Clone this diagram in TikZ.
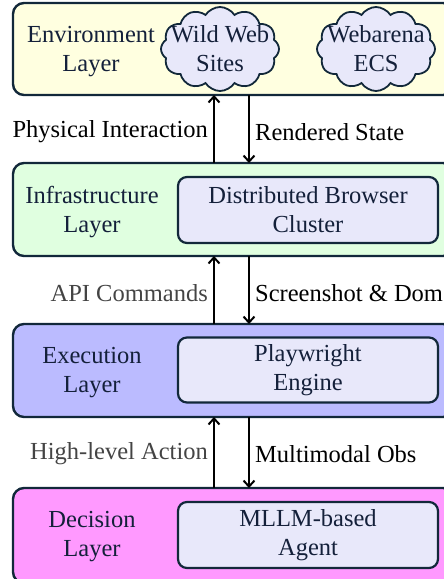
\documentclass[tikz,border=0pt]{standalone}
\usepackage{fontspec}
\setmainfont{Liberation Serif}
\usetikzlibrary{shapes.symbols,arrows.meta}
\definecolor{bordc}{HTML}{12283A}
\definecolor{txtc}{HTML}{14203A}
\definecolor{envc}{HTML}{FFFFE0}
\definecolor{infc}{HTML}{E0FFE0}
\definecolor{exec}{HTML}{BBBBFF}
\definecolor{decc}{HTML}{FF99FF}
\definecolor{innc}{HTML}{E8E8FA}
\definecolor{greyt}{HTML}{444444}
\tikzset{
  layerbox/.style={draw=bordc, line width=2.4pt, rounded corners=11pt},
  innerbox/.style={draw=bordc, line width=2.2pt, rounded corners=9pt, fill=innc},
  lbl/.style={text=txtc, align=center, font=\fontsize{24.5}{29}\selectfont},
  cloudbox/.style={cloud, cloud puffs=12, cloud puff arc=115, draw=bordc, line width=1.8pt, fill=innc,
     minimum width=118pt, minimum height=84pt, cloud ignores aspect, inner sep=0pt},
  flow/.style={line width=2.2pt, -{Straight Barb[length=6pt,width=11pt,line width=2pt]}},
  elab/.style={font=\fontsize{24.5}{29}\selectfont, inner sep=0pt},
}
\begin{document}
\begin{tikzpicture}[x=1pt,y=-1pt]
\useasboundingbox (0,0) rectangle (444,579);
\begin{scope}
\clip (0,0) rectangle (444,579);
% layer boxes
\path[layerbox, fill=envc] (13,3) rectangle (454,95);
\path[layerbox, fill=infc] (13,163) rectangle (454,256);
\path[layerbox, fill=exec] (13,324) rectangle (454,417);
\path[layerbox, fill=decc] (13,488) rectangle (454,583);
\end{scope}
\coordinate (envB1) at (214,95);
\coordinate (envB2) at (249,95);
\coordinate (infT1) at (214,163);
\coordinate (infT2) at (249,163);
\coordinate (infB1) at (214,256);
\coordinate (infB2) at (249,256);
\coordinate (exeT1) at (214,324);
\coordinate (exeT2) at (249,324);
\coordinate (exeB1) at (214,417);
\coordinate (exeB2) at (249,417);
\coordinate (decT1) at (214,488);
\coordinate (decT2) at (249,488);
% labels
\node[lbl] (envL) at (91,52) {Environment\\Layer};
\node[lbl] (infL) at (92,212) {Infrastructure\\Layer};
\node[lbl] (exeL) at (92,373) {Execution\\Layer};
\node[lbl] (decL) at (92,537) {Decision\\Layer};
% clouds
\node[cloudbox] (wild) at (220,49) {};
\node[lbl] (wildT) at (wild.center) {Wild Web\\Sites};
\node[cloudbox] (arena) at (376,49) {};
\node[lbl] (arenaT) at (arena.center) {Webarena\\ECS};
% inner boxes
\node[innerbox, lbl, minimum width=260pt, minimum height=66pt] (cluster) at (308,210) {Distributed Browser\\Cluster};
\node[innerbox, lbl, minimum width=260pt, minimum height=65pt] (engine) at (308,370) {Playwright\\Engine};
\node[innerbox, lbl, minimum width=260pt, minimum height=66pt] (agent) at (308,535) {MLLM-based\\Agent};
% arrows
\draw[flow] (infT1) -- (envB1);
\draw[flow] (envB2) -- (infT2);
\draw[flow] (exeT1) -- (infB1);
\draw[flow] (infB2) -- (exeT2);
\draw[flow] (decT1) -- (exeB1);
\draw[flow] (exeB2) -- (decT2);
% edge labels
\node[elab, anchor=east, text=black] (pi) at (208,132) {Physical Interaction};
\node[elab, anchor=west, text=black] (rs) at (255,132) {Rendered State};
\node[elab, anchor=east, text=greyt] (api) at (208,293) {API Commands};
\node[elab, anchor=west, text=black] (sd) at (255,293) {Screenshot \& Dom};
\node[elab, anchor=east, text=greyt] (hl) at (208,454) {High-level Action};
\node[elab, anchor=west, text=black] (mo) at (255,454) {Multimodal Obs};
\end{tikzpicture}
\end{document}
